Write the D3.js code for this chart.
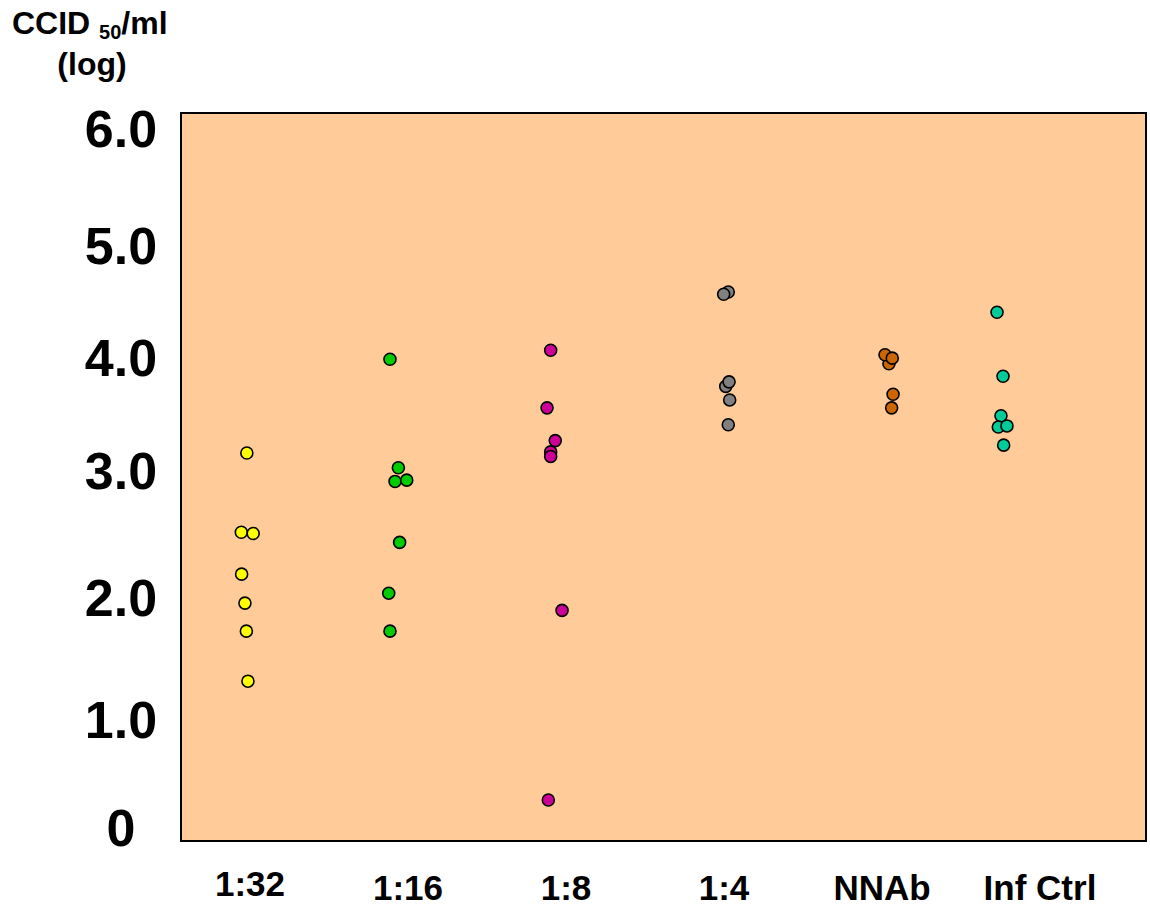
<!DOCTYPE html>
<html lang="en">
<head>
    <meta charset="UTF-8">
    <title>CCID50 by dilution</title>
    <script src="https://d3js.org/d3.v7.min.js"></script>
    <style>
        body { margin: 0; background: #fff; }
        text { font-family: "Liberation Sans", Arial, sans-serif; font-weight: bold; fill: #000; }
    </style>
</head>
<body>
<svg></svg>
<script>

    // categories along the bottom
    let groups = ["1:32", "1:16", "1:8", "1:4", "NNAb", "Inf Ctrl"];
    let colors = ["#ffff00", "#00cc00", "#cc0099", "#808080", "#cc6600", "#00cc99"];

    // y tick labels
    let yTicks = [0, 1, 2, 3, 4, 5, 6];

    // log CCID50/ml per sample, one array per group
    let v132  = [3.15, 2.51, 2.50, 2.18, 1.95, 1.72, 1.31];
    let v116  = [3.98, 3.02, 2.91, 2.92, 2.43, 2.03, 1.72];
    let v18   = [4.06, 3.55, 3.26, 3.16, 3.12, 1.89, 0.25];
    let v14   = [4.58, 4.56, 3.74, 3.78, 3.62, 3.40];
    let vNNAb = [3.94, 4.02, 3.99, 3.67, 3.55];
    let vCtrl = [4.40, 3.83, 3.48, 3.38, 3.39, 3.22];

    // horizontal jitter of each dot, in category units
    let j132  = [-0.02, -0.055, 0.02, -0.053, -0.032, -0.023, -0.013];
    let j116  = [-0.114, -0.061, -0.082, -0.008, -0.053, -0.122, -0.114];
    let j18   = [-0.097, -0.12, -0.068, -0.097, -0.097, -0.025, -0.112];
    let j14   = [0.027, -0.002, 0.011, 0.032, 0.036, 0.027];
    let jNNAb = [0.044, 0.019, 0.065, 0.07, 0.061];
    let jCtrl = [-0.272, -0.234, -0.247, -0.264, -0.209, -0.23];

    let values = [v132, v116, v18, v14, vNNAb, vCtrl];
    let jitter = [j132, j116, j18, j14, jNNAb, jCtrl];

    let points = [];
    values.forEach(function(arr, g) {
        arr.forEach(function(v, i) {
            points.push({ group: g, x: g + jitter[g][i], y: v });
        });
    });

    let width = 1150, height = 909;
    let plot = { left: 181, top: 113, right: 1146, bottom: 841 };

    let svg = d3.select("svg").attr("width", width).attr("height", height);

    // the printed axis labels are not evenly spaced, so the scale follows them
    let y = d3.scaleLinear()
        .domain(yTicks)
        .range([827, 719, 597, 470, 357, 245, 128]);

    let x = d3.scaleLinear()
        .domain([0, groups.length - 1])
        .range([250, 1040]);

    svg.append("rect")
        .attr("x", plot.left)
        .attr("y", plot.top)
        .attr("width", plot.right - plot.left)
        .attr("height", plot.bottom - plot.top)
        .attr("fill", "#ffcc99")
        .attr("stroke", "#000")
        .attr("stroke-width", 2);

    let yAxis = svg.append("g")
        .attr("transform", "translate(" + 121 + ",0)")
        .call(d3.axisLeft(y).tickValues(yTicks).tickSize(0).tickPadding(0)
            .tickFormat(function(d) { return d === 0 ? "0" : d3.format(".1f")(d); }));
    yAxis.select(".domain").remove();
    yAxis.selectAll("text")
        .attr("text-anchor", "middle")
        .attr("x", 0)
        .attr("dy", "0.36em")
        .style("font-family", "'Liberation Sans', Arial, sans-serif")
        .style("font-weight", "bold")
        .style("font-size", "52px")
        .attr("fill", "#000");

    svg.append("g").selectAll("text")
        .data(groups)
        .join("text")
        .attr("x", function(d, i) { return x(i); })
        .attr("y", function(d, i) { return i === 0 ? 896 : 900; })
        .attr("text-anchor", "middle")
        .style("font-size", "35px")
        .text(function(d) { return d; });

    svg.append("g").selectAll("circle")
        .data(points)
        .join("circle")
        .attr("cx", function(d) { return x(d.x); })
        .attr("cy", function(d) { return y(d.y); })
        .attr("r", 6)
        .attr("fill", function(d) { return colors[d.group]; })
        .attr("stroke", "#000")
        .attr("stroke-width", 1.6);

    // axis title
    let title = svg.append("text")
        .attr("x", 12)
        .attr("y", 34)
        .style("font-size", "32px");
    title.append("tspan").text("CCID ");
    title.append("tspan").attr("dy", 5).style("font-size", "20px").text("50");
    title.append("tspan").attr("dy", -5).text("/ml");

    svg.append("text")
        .attr("x", 92)
        .attr("y", 75)
        .attr("text-anchor", "middle")
        .style("font-size", "32px")
        .text("(log)");
</script>
</body>
</html>
